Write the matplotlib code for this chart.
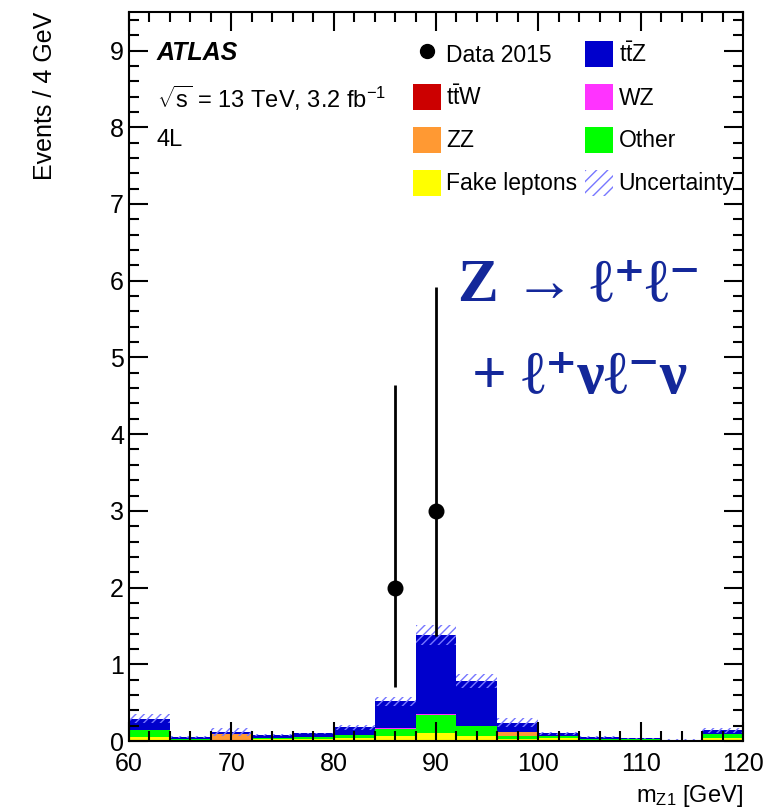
import numpy as np
import matplotlib
matplotlib.use("Agg")
import matplotlib.pyplot as plt
from matplotlib.patches import Patch
from matplotlib.lines import Line2D
from matplotlib.ticker import MultipleLocator

plt.rcParams['font.family'] = ['Liberation Sans', 'DejaVu Sans']
plt.rcParams['mathtext.fontset'] = 'custom'
plt.rcParams['mathtext.rm'] = 'Liberation Sans'
plt.rcParams['mathtext.it'] = 'Liberation Sans:italic'
plt.rcParams['hatch.linewidth'] = 1.0

# bins of 4 GeV from 60 to 120
bin_lo = [60, 64, 68, 72, 76, 80, 84, 88, 92, 96, 100, 104, 108, 112, 116]
fake = [0.05, 0.01, 0.005, 0.02, 0.02, 0.04, 0.06, 0.11, 0.065, 0.03, 0.035, 0.01, 0.005, 0.003, 0.04]
other = [0.10, 0.02, 0.005, 0.02, 0.03, 0.04, 0.10, 0.23, 0.13, 0.03, 0.03, 0.02, 0.015, 0.002, 0.05]
zz = [0.0, 0.0, 0.08, 0.0, 0.0, 0.0, 0.0, 0.005, 0.0, 0.055, 0.0, 0.0, 0.0, 0.0, 0.0]
wz = [0.0, 0.0, 0.0, 0.0, 0.0, 0.0, 0.01, 0.005, 0.0, 0.0, 0.0, 0.0, 0.0, 0.0, 0.0]
ttw = [0.0, 0.0, 0.0, 0.0, 0.0, 0.0, 0.0, 0.005, 0.0, 0.0, 0.0, 0.0, 0.0, 0.0, 0.0]
ttz = [0.14, 0.02, 0.03, 0.035, 0.05, 0.10, 0.35, 1.025, 0.59, 0.125, 0.035, 0.02, 0.015, 0.01, 0.05]
unc = [0.06, 0.01, 0.05, 0.01, 0.01, 0.03, 0.06, 0.13, 0.09, 0.06, 0.02, 0.01, 0.01, 0.005, 0.03]

data_x = [86, 90]
data_y = [2, 3]
data_err_lo = [1.29, 1.63]
data_err_hi = [2.64, 2.92]

stack = [
    (fake, '#ffff00'),
    (other, '#00ff00'),
    (zz, '#ff9933'),
    (wz, '#ff33ff'),
    (ttw, '#cc0000'),
    (ttz, '#0000cc'),
]

fig = plt.figure(figsize=(7.63, 8.11), dpi=100)
ax = fig.add_axes([0.169, 0.0863, 0.8048, 0.8987])

bottom = np.zeros(len(bin_lo))
for vals, col in stack:
    ax.bar(bin_lo, vals, width=4, align='edge', bottom=bottom, color=col, linewidth=0)
    bottom = bottom + np.array(vals)

total = bottom
unc = np.array(unc)
ax.bar(bin_lo, 2 * unc, width=4, align='edge', bottom=total - unc,
       facecolor='none', edgecolor='#7777ff', hatch='////', linewidth=0)

ax.errorbar(data_x, data_y, yerr=[data_err_lo, data_err_hi], fmt='o', color='black',
            markersize=10.5, elinewidth=2, capsize=0, zorder=5)

ax.set_xlim(60, 120)
ax.set_ylim(0, 9.5)
ax.xaxis.set_major_locator(MultipleLocator(10))
ax.xaxis.set_minor_locator(MultipleLocator(2))
ax.yaxis.set_major_locator(MultipleLocator(1))
ax.yaxis.set_minor_locator(MultipleLocator(0.2))
ax.tick_params(which='both', direction='in', top=True, right=True, width=1.5, labelsize=18)
ax.tick_params(which='major', length=14)
ax.tick_params(which='minor', length=7)
ax.tick_params(axis='x', pad=8)
for sp in ax.spines.values():
    sp.set_linewidth(1.5)

ax.set_xlabel(r'$\mathrm{m_{Z1}}$ [GeV]', fontsize=17, loc='right', labelpad=5)
ax.set_ylabel('Events / 4 GeV', fontsize=18, loc='top', labelpad=38)

ax.text(0.045, 0.944, 'ATLAS', transform=ax.transAxes, fontsize=18,
        fontweight='bold', fontstyle='italic', va='center')
ax.text(0.045, 0.882, r'$\sqrt{\mathrm{s}}$ = 13 TeV, 3.2 fb$^{\mathrm{-1}}$',
        transform=ax.transAxes, fontsize=17, va='center')
ax.text(0.045, 0.824, '4L', transform=ax.transAxes, fontsize=17, va='center')

handles = [
    Line2D([], [], marker='o', color='black', linestyle='none', markersize=10),
    Patch(facecolor='#cc0000', linewidth=0),
    Patch(facecolor='#ff9933', linewidth=0),
    Patch(facecolor='#ffff00', linewidth=0),
    Patch(facecolor='#0000cc', linewidth=0),
    Patch(facecolor='#ff33ff', linewidth=0),
    Patch(facecolor='#00ff00', linewidth=0),
    Patch(facecolor='none', edgecolor='#7777ff', hatch='///', linewidth=0),
]
labels = ['Data 2015', r'$\mathrm{t\bar{t}W}$', 'ZZ', 'Fake leptons',
          r'$\mathrm{t\bar{t}Z}$', 'WZ', 'Other', 'Uncertainty']
ax.legend(handles, labels, ncol=2, loc='upper left', bbox_to_anchor=(0.444, 0.976),
          frameon=False, fontsize=16.5, handlelength=1.2, handleheight=1.35,
          handletextpad=0.25, labelspacing=0.75, columnspacing=0.35, borderpad=0)

fig.text(0.760, 0.649, 'Z → ℓ⁺ℓ⁻', fontsize=44, fontweight='bold', color='#14289a',
         family=['Liberation Serif', 'DejaVu Serif', 'DejaVu Sans'], ha='center', va='center')
fig.text(0.760, 0.534, '+ ℓ⁺νℓ⁻ν', fontsize=44, fontweight='bold', color='#14289a',
         family=['Liberation Serif', 'DejaVu Serif', 'DejaVu Sans'], ha='center', va='center')

fig.savefig('out.png', dpi=100)
